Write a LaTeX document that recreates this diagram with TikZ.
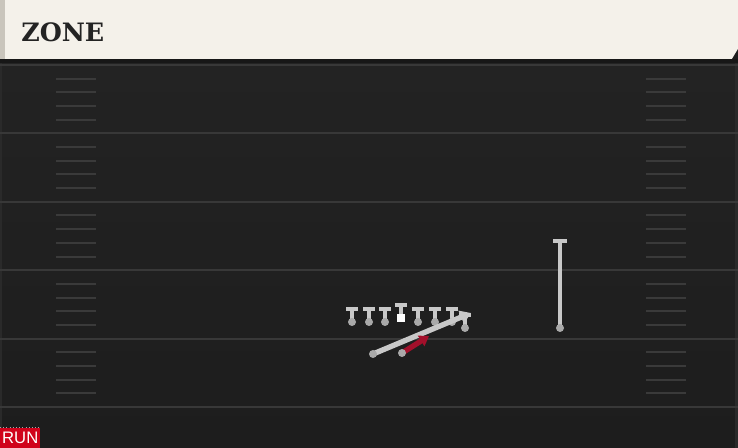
\documentclass[tikz,border=0pt]{standalone}
\usepackage{xcolor}
\usepackage{fontspec}
\usepackage{tikz}
\usetikzlibrary{arrows.meta}

\newfontfamily\titlefont{DejaVu Serif}
\newfontfamily\tagfont{Liberation Sans}

\definecolor{cream}{HTML}{F4F1EA}
\definecolor{creamedge}{HTML}{C9C5BC}
\definecolor{turf}{HTML}{232323}
\definecolor{turfdark}{HTML}{1D1D1D}
\definecolor{yardline}{HTML}{383838}
\definecolor{hashmark}{HTML}{3A3A3A}
\definecolor{sideline}{HTML}{2A2A2A}
\definecolor{chalk}{HTML}{C8C8C8}
\definecolor{dotgrey}{HTML}{A9A9A9}
\definecolor{crimson}{HTML}{A3102B}
\definecolor{runred}{HTML}{D0021B}

\begin{document}
\begin{tikzpicture}[x=0.75pt,y=-0.75pt,
  yard/.style={yardline,line width=1.5pt},
  hash/.style={hashmark,line width=1.5pt},
  player/.style={chalk,line width=3.2pt},
  tbar/.style={chalk,line width=3.4pt},
  dot/.style={fill=dotgrey},
  route/.style={chalk,line width=4pt,-{Triangle[width=10pt,length=8pt]}},
  runroute/.style={crimson,line width=4pt,-{Triangle[width=9pt,length=7pt]}},
  runtag/.style={fill=runred,text=white,inner sep=0pt,minimum width=30pt,
    minimum height=15pt,font=\tagfont\fontsize{12.5}{13}\selectfont}]

  \useasboundingbox (0,0) rectangle (738,448);

  % field
  \shade[top color=turf,bottom color=turfdark] (0,59) rectangle (738,448);
  \fill[turfdark!80!black] (0,59) rectangle (738,63);
  \fill[sideline] (0,63) rectangle (2,448);
  \fill[sideline] (735,63) rectangle (738,448);

  \foreach \i in {0,...,5} {
    \draw[yard] (0,65+68.4*\i) -- (738,65+68.4*\i);
  }
  \foreach \i in {0,...,4} {
    \foreach \k in {1,...,4} {
      \draw[hash] (56,65+68.4*\i+13.7*\k) -- (96,65+68.4*\i+13.7*\k);
      \draw[hash] (646,65+68.4*\i+13.7*\k) -- (686,65+68.4*\i+13.7*\k);
    }
  }

  % header
  \fill[cream] (0,0) rectangle (738,59);
  \fill[creamedge] (0,0) rectangle (5,59);
  \fill[turfdark] (738,49) -- (738,59) -- (732,59) -- cycle;
  \node[anchor=base west,inner sep=0pt,text=turf,
    font=\titlefont\bfseries\fontsize{19}{21}\selectfont] (title) at (21,42) {ZONE};

  % offensive line
  \foreach \x/\n in {352/lt,369/lg,385/lgg,418/rg,435/rt,452/rtt} {
    \coordinate (\n) at (\x,322);
    \draw[player] (\n) -- ++(0,-13);
    \draw[tbar] (\x-6,309) -- (\x+6,309);
    \fill[dot] (\n) circle (4);
  }
  \coordinate (c) at (401,318);
  \draw[player] (401,314) -- (401,305);
  \draw[tbar] (395,305) -- (407,305);
  \fill[white] (397,314) rectangle (405,322);

  % tight end
  \coordinate (te) at (465,328);
  \draw[player] (te) -- ++(0,-13);
  \draw[tbar] (459,315) -- (471,315);
  \fill[dot] (te) circle (4);

  % receiver
  \coordinate (wr) at (560,328);
  \coordinate (wrtop) at (560,241);
  \draw[player] (wr) -- (wrtop);
  \draw[tbar] (553,241) -- (567,241);
  \fill[dot] (wr) circle (4);

  % backs
  \coordinate (fb) at (373,354);
  \coordinate (fbend) at (471,313);
  \draw[route] (fb) -- (fbend);
  \fill[dot] (fb) circle (4);

  \coordinate (rb) at (402,353);
  \coordinate (rbend) at (429,336);
  \draw[runroute] (rb) -- (rbend);
  \fill[dot] (rb) circle (4);

  % tag
  \draw[dotgrey,dotted] (0,427) -- (40,427);
  \node[runtag,anchor=south west] (run) at (0,448) {RUN};
\end{tikzpicture}
\end{document}
